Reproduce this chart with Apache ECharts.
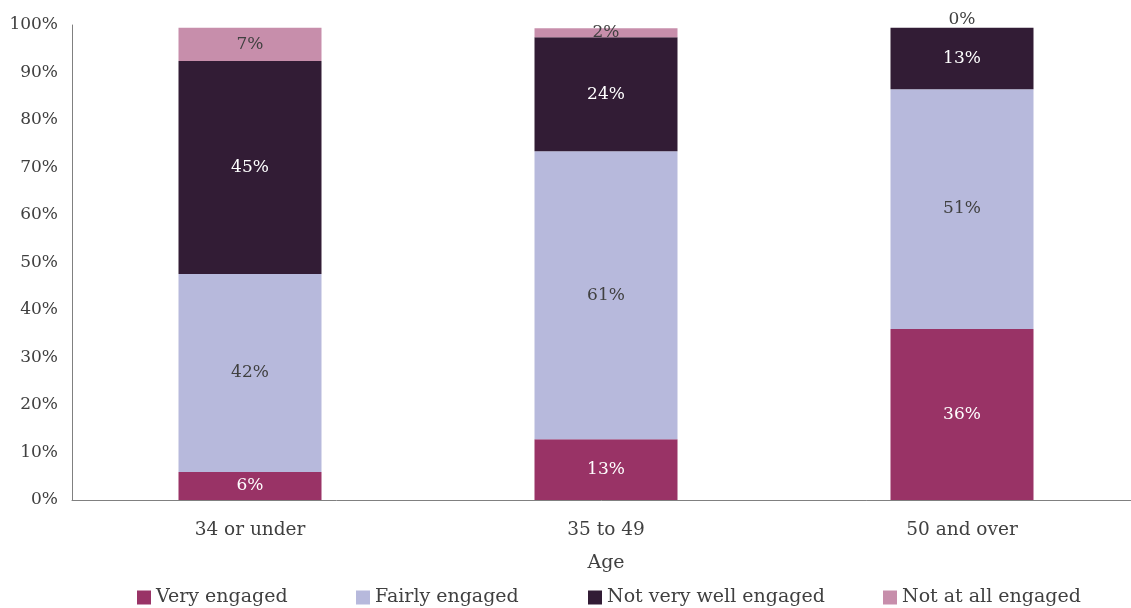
<!DOCTYPE html>
<html>
<head>
<meta charset="utf-8">
<script src="https://cdn.jsdelivr.net/npm/echarts@6/dist/echarts.min.js"></script>
<style>
  html, body { margin: 0; padding: 0; background: #fff; }
  #chart { width: 1131px; height: 608px; }
</style>
</head>
<body>
<div id="chart"></div>
<script>
var categories = ['34 or under', '35 to 49', '50 and over'];
var veryEngaged = [5.9, 12.8, 36.0];
var fairlyEngaged = [41.7, 60.6, 50.5];
var notVeryWell = [44.8, 24.0, 12.9];
var notAtAll = [7.0, 1.9, 0];
var yTicks = [0, 10, 20, 30, 40, 50, 60, 70, 80, 90, 100];

var FONT = '"DejaVu Serif", serif';
var TEXT = '#404040';

var chart = echarts.init(document.getElementById('chart'), null, { renderer: 'canvas' });

function seg(name, data, color, labelColor) {
    return {
        name: name,
        type: 'bar',
        stack: 'total',
        barWidth: 143,
        // a zero segment gets its label just above the stack
        data: data.map(function (v) {
            if (v === 0) {
                return { value: v, label: { position: 'top', distance: 0 } };
            }
            return v;
        }),
        itemStyle: { color: color },
        label: {
            show: true,
            position: 'inside',
            color: labelColor,
            fontFamily: FONT,
            fontSize: 17,
            formatter: function (p) { return Math.round(p.value) + '%'; }
        }
    };
}

var series = [
    seg('Very engaged', veryEngaged, '#993366', '#ffffff'),
    seg('Fairly engaged', fairlyEngaged, '#b7b9dc', TEXT),
    seg('Not very well engaged', notVeryWell, '#321c35', '#ffffff'),
    seg('Not at all engaged', notAtAll, '#c78eab', TEXT)
];

var legendLefts = [137, 356, 588, 883];
var legends = series.map(function (s, i) {
    return {
        data: [s.name],
        left: legendLefts[i],
        top: 588,
        padding: 0,
        itemWidth: 14,
        itemHeight: 14,
        icon: 'rect',
        textStyle: { fontFamily: FONT, fontSize: 19, color: TEXT }
    };
});

var option = {
    animation: false,
    backgroundColor: '#fff',
    grid: { left: 72, top: 25, width: 1068, bottom: 108, outerBoundsMode: 'none' },
    legend: legends,
    xAxis: {
        type: 'category',
        data: categories,
        name: 'Age',
        nameLocation: 'middle',
        nameGap: 54,
        nameTextStyle: { fontFamily: FONT, fontSize: 19, color: TEXT },
        axisLine: { lineStyle: { color: '#808080', width: 1 } },
        axisTick: { show: false },
        axisLabel: { fontFamily: FONT, fontSize: 18.5, color: TEXT, margin: 21 }
    },
    yAxis: {
        type: 'value',
        min: yTicks[0],
        max: yTicks[yTicks.length - 1],
        interval: 10,
        axisLine: { show: true, lineStyle: { color: '#808080', width: 1 } },
        axisTick: { show: false },
        splitLine: { show: false },
        axisLabel: {
            fontFamily: FONT, fontSize: 17, color: TEXT, margin: 14,
            formatter: function (v) { return v + '%'; }
        }
    },
    series: series
};

chart.setOption(option);
window.addEventListener('resize', chart.resize);
</script>
</body>
</html>
